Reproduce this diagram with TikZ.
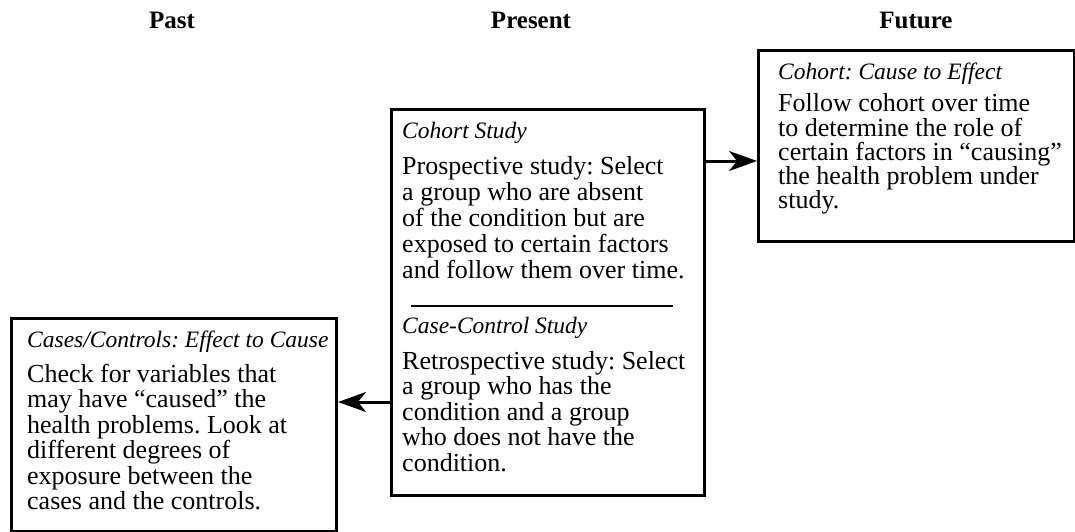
\documentclass[tikz,border=0pt]{standalone}
\usepackage{fontspec}
\setmainfont{Liberation Serif}
\usetikzlibrary{arrows.meta,positioning}
\tikzset{
  studybox/.style={draw, line width=3pt, rectangle, inner sep=0pt, anchor=north west},
  era/.style={font=\fontsize{25}{25}\selectfont\bfseries, anchor=base},
  boxhead/.style={font=\fontsize{23.5}{23.5}\selectfont\itshape\frenchspacing, anchor=base west, inner sep=0pt},
  boxline/.style={font=\fontsize{26}{26}\selectfont\frenchspacing, anchor=base west, inner sep=0pt},
  timearrow/.style={line width=3pt, -{Stealth[length=28pt,width=20pt,inset=8pt]}},
}

\begin{document}
\begin{tikzpicture}[x=1pt,y=-1pt]
  \useasboundingbox (0,0) rectangle (1075,532);
  %% column headings
  \node[era] (past) at (172,29) {Past};
  \node[era] (present) at (531,29) {Present};
  \node[era] (future) at (916,29) {Future};
  %% the three boxes
  \node[studybox, minimum width=313pt, minimum height=386pt] (study) at (390,108) {};
  \node[studybox, minimum width=316pt, minimum height=191pt] (forward) at (757,49) {};
  \node[studybox, minimum width=325pt, minimum height=213pt] (backward) at (10,317) {};
  %% present: cohort study
  \node[boxhead] (cohorthd) at (402,139) {Cohort Study};
  \foreach \txt [count=\i from 0] in {Prospective study: Select,
      a group who are absent, of the condition but are,
      exposed to certain factors, and follow them over time.}
    \node[boxline] (cohort\i) at (402,174+26*\i) {\txt};
  \draw[line width=2.5pt] (411,306) -- (673,306);
  %% present: case-control study
  \node[boxhead] (casehd) at (402,333) {Case-Control Study};
  \foreach \txt [count=\i from 0] in {Retrospective study: Select,
      a group who has the, condition and a group,
      who does not have the, condition.}
    \node[boxline] (case\i) at (402,369+25.5*\i) {\txt};
  %% future
  \node[boxhead] (fwdhd) at (778,80) {Cohort: Cause to Effect};
  \foreach \txt [count=\i from 0] in {Follow cohort over time,
      to determine the role of, certain factors in ``causing'',
      the health problem under, study.}
    \node[boxline] (fwd\i) at (778,112+24*\i) {\txt};
  %% past
  \node[boxhead] (bwdhd) at (27,347) {Cases/Controls: Effect to Cause};
  \foreach \txt [count=\i from 0] in {Check for variables that,
      may have ``caused'' the, health problems. Look at,
      different degrees of, exposure between the,
      cases and the controls.}
    \node[boxline] (bwd\i) at (27,382+25.5*\i) {\txt};
  %% arrows
  \coordinate (fwdlevel) at (730,161);
  \coordinate (bwdlevel) at (360,402);
  \draw[timearrow] (study.east |- fwdlevel) -- (forward.west |- fwdlevel);
  \draw[timearrow] (study.west |- bwdlevel) -- (backward.east |- bwdlevel);
\end{tikzpicture}
\end{document}
